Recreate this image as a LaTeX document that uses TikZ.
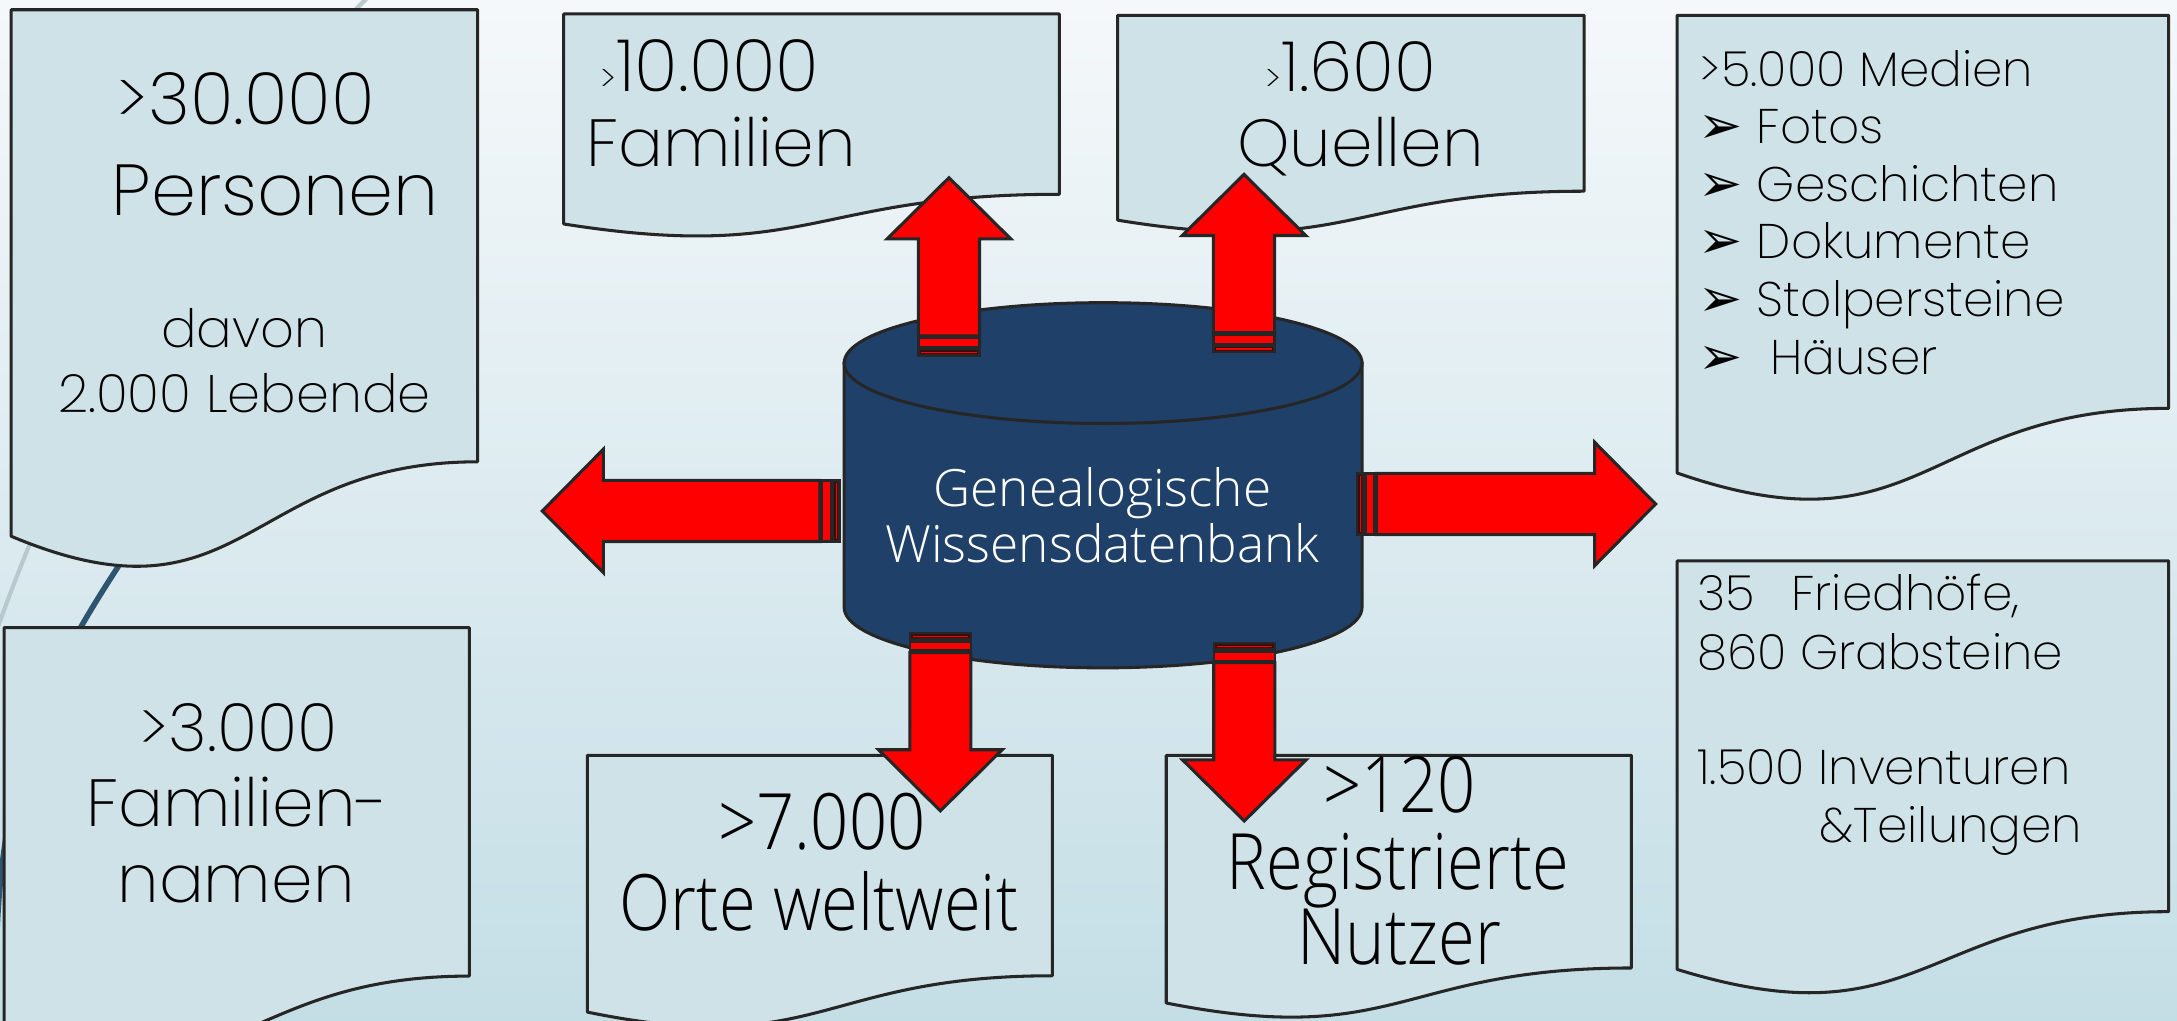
\documentclass[tikz,border=0pt]{standalone}
\usepackage{fontspec}
\usepackage{graphicx}
\setmainfont{Poppins ExtraLight}
\newfontfamily\dbfont{Open Sans Light}
\newfontfamily\symfont{DejaVu Sans}
\usetikzlibrary{positioning}

\definecolor{bgtop}{RGB}{245,248,250}
\definecolor{bgbot}{RGB}{196,222,230}
\definecolor{docfill}{RGB}{207,226,232}
\definecolor{outline}{RGB}{38,38,38}
\definecolor{dbblue}{RGB}{31,64,104}
\definecolor{bandred}{RGB}{60,12,12}
\definecolor{darkarc}{RGB}{46,85,112}
\definecolor{lightarc}{RGB}{184,200,207}

\begin{document}
\begin{tikzpicture}[x=0.5pt,y=-0.5pt,
  doc/.style={fill=docfill,draw=outline,line width=1.1pt,line join=round},
  dbcyl/.style={fill=dbblue,draw=outline,line width=1.1pt},
  blockarrow/.style={fill=red,draw=outline,line width=1.1pt},
  band/.style={draw=outline,line width=0.8pt},
  bigtxt/.style={font=\fontsize{26}{26}\selectfont,inner sep=0pt},
  toptxt/.style={font=\fontsize{24}{24}\selectfont,inner sep=0pt},
  midtxt/.style={font=\fontsize{19}{19}\selectfont,inner sep=0pt},
  smalltxt/.style={font=\fontsize{17.5}{17.5}\selectfont,inner sep=0pt},
  condtxt/.style={font=\dbfont\fontsize{28}{28}\selectfont,inner sep=0pt},
  dbtxt/.style={font=\dbfont\fontsize{18.5}{18.5}\selectfont,text=white,inner sep=0pt}]
\newcommand*{\docshape}[5]{% name, left, top, width, height
  \pgfmathsetmacro{\docR}{#2+#4}
  \pgfmathsetmacro{\docM}{#2+0.5*#4}
  \pgfmathsetmacro{\docA}{#3+0.802*#5}
  \pgfmathsetmacro{\docB}{#3+1.1075*#5}
  \pgfmathsetmacro{\docC}{#3+0.934*#5}
  \filldraw[doc] (#2,#3) -- (\docR,#3) -- (\docR,\docA)
    .. controls (\docM,\docA) and (\docM,\docB) .. (#2,\docC) -- cycle;
  \coordinate (#1) at (\docM,#3);
}
\newcommand*{\redarrow}[3]{% tail, direction, shaft length
  \begin{scope}[shift={(#1)},rotate=#2]
    \filldraw[band,fill=bandred] (-14,-22) rectangle (-9.5,22);
    \draw[red,line width=0.4pt] (-11.75,-20) -- (-11.75,20);
    \filldraw[band,fill=red] (-8,-22) rectangle (-1.5,22);
    \filldraw[blockarrow] (0,-22) -- (#3,-22) -- (#3,-44.5) -- (#3+44,0)
      -- (#3,44.5) -- (#3,22) -- (0,22) -- cycle;
  \end{scope}
}
\useasboundingbox (0,0) rectangle (1568,735);
\clip (0,0) rectangle (1568,735);
\shade[top color=bgtop,bottom color=bgbot] (0,0) rectangle (1568,735);

% background swooshes
\draw[lightarc,line width=1.5pt] (-8,470) .. controls (40,330) and (140,120) .. (268,-5);
\draw[darkarc,line width=2pt] (110,370) .. controls (45,470) and (-10,540) .. (-2,740);

% documents
\docshape{pers}{8}{7}{336}{406}
\docshape{fam}{406}{10}{357}{162}
\docshape{que}{805}{11}{336}{158}
\docshape{med}{1208}{11}{354}{353}
\docshape{fri}{1208}{404}{354}{315}
\docshape{fnam}{3}{452}{335}{313}
\docshape{orte}{423}{544}{335}{198}
\docshape{nutz}{840}{544}{335}{191}

% database
\filldraw[dbcyl] (608,261.5) -- (608,437.5)
  arc[start angle=180,end angle=0,x radius=186.5,y radius=43.5] -- (981,261.5) -- cycle;
\draw[dbcyl] (794.5,261.5) ellipse [x radius=186.5,y radius=43.5];
\node[dbtxt,anchor=base] (db1) at (794,365) {Genealogische};
\node[dbtxt,anchor=base] (db2) at (794,405) {Wissensdatenbank};

% arrows
\coordinate (up1) at (683.5,242);
\coordinate (up2) at (896,239.6);
\coordinate (lt) at (590.6,368);
\coordinate (rt) at (991.5,363);
\coordinate (dn1) at (677.3,470);
\coordinate (dn2) at (896.2,477.3);
\redarrow{up1}{90}{70}
\redarrow{up2}{90}{70}
\redarrow{lt}{180}{156}
\redarrow{rt}{0}{157}
\redarrow{dn1}{-90}{70}
\redarrow{dn2}{-90}{70}

% texts
\node[bigtxt,anchor=base] (pers1) at (177,90) {>30.000};
\node[bigtxt,anchor=base west] (pers2) at (80,155) {Personen};
\node[midtxt,anchor=base] (pers3) at (176,250) {davon};
\node[midtxt,anchor=base] (pers4) at (176,297) {2.000 Lebende};

\node[bigtxt,anchor=base west] (fam1) at (432,66) {{\fontsize{13}{13}\selectfont >}10.000};
\node[toptxt,anchor=base west] (fam2) at (422,120) {Familien};

\node[bigtxt,font=\fontsize{25}{25}\selectfont,anchor=base] (que1) at (973,66) {{\fontsize{13}{13}\selectfont >}1.600};
\node[toptxt,anchor=base] (que2) at (980,120) {Quellen};

\node[smalltxt,anchor=base west] (med0) at (1224,62) {>5.000 Medien};
\foreach \entry [count=\i] in {Fotos,Geschichten,Dokumente,Stolpersteine,\ Häuser}
{
  \node[smalltxt,font=\symfont\fontsize{19}{19}\selectfont,anchor=base west] (bul\i) at (1223,62+41.5*\i) {➢};
  \node[smalltxt,anchor=base west] (med\i) at (1265,62+41.5*\i) {\entry};
}

\node[smalltxt,anchor=base west] (fri1) at (1222,440) {35};
\node[smalltxt,anchor=base west] (fri2) at (1290,440) {Friedhöfe,};
\node[smalltxt,anchor=base west] (fri3) at (1222,482) {860 Grabsteine};
\node[smalltxt,anchor=base west] (fri4) at (1222,565) {1.500 Inventuren};
\node[smalltxt,anchor=base west] (fri5) at (1310,607) {\&Teilungen};

\node[toptxt,anchor=base] (fnam1) at (172,541) {>3.000};
\node[toptxt,anchor=base] (fnam2) at (171,595) {Familien-};
\node[toptxt,anchor=base] (fnam3) at (170,650) {namen};

\node[condtxt,anchor=base] (orte1) at (592,612) {\scalebox{0.86}[1]{>7.000}};
\node[condtxt,anchor=base] (orte2) at (590,670) {\scalebox{0.86}[1]{Orte weltweit}};

\node[condtxt,anchor=base] (nutz1) at (1008,585) {\scalebox{0.86}[1]{>120}};
\node[condtxt,anchor=base] (nutz2) at (1007,641) {\scalebox{0.86}[1]{Registrierte}};
\node[condtxt,anchor=base] (nutz3) at (1008,695) {\scalebox{0.86}[1]{Nutzer}};
\end{tikzpicture}
\end{document}
